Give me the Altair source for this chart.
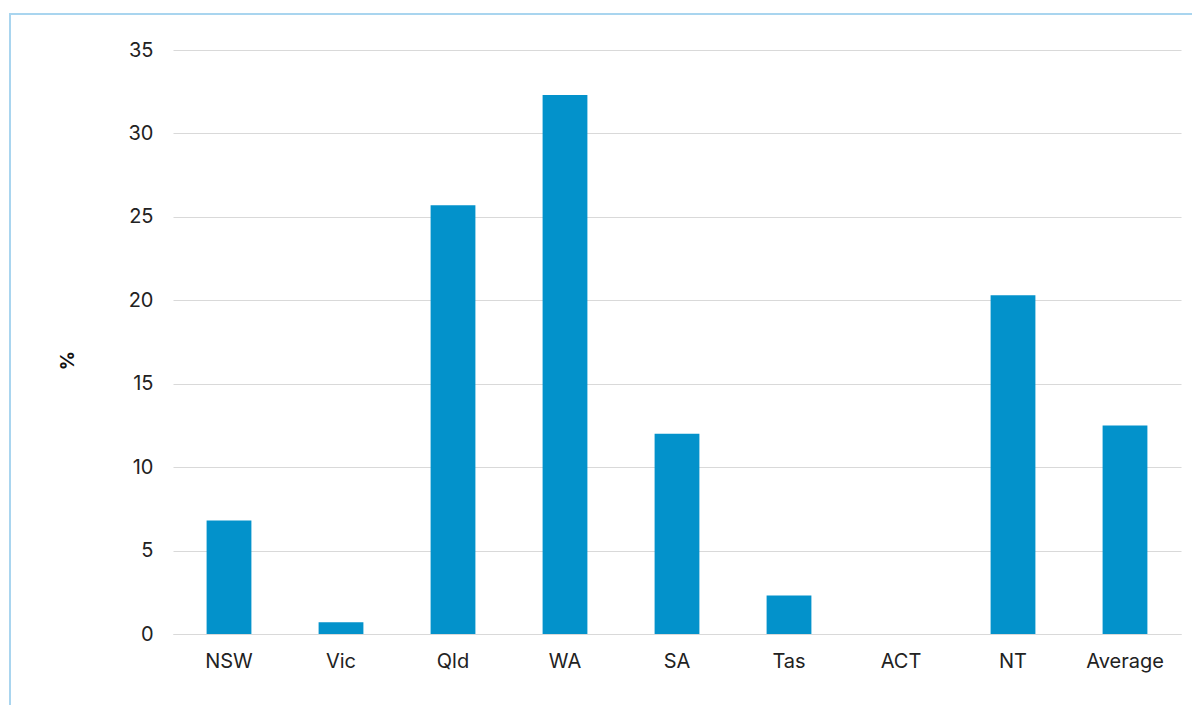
import altair as alt
import pandas as pd

states = ["NSW", "Vic", "Qld", "WA", "SA", "Tas", "ACT", "NT", "Average"]
values = [6.8, 0.7, 25.7, 32.3, 12.0, 2.3, 0.0, 20.3, 12.5]

df = pd.DataFrame({"state": states, "value": values})

FONT = "Inter"

border = alt.Chart(pd.DataFrame({"a": [0]})).mark_rect(
    fill=None, stroke="#a9d5ef", strokeWidth=2, clip=False
).encode(
    x=alt.value(-163), x2=alt.value(1100),
    y=alt.value(-36), y2=alt.value(800),
)

bars = alt.Chart(df).mark_bar(color="#0392CB").encode(
    x=alt.X("state:N", sort=states,
            scale=alt.Scale(paddingInner=0.6, paddingOuter=0.3),
            axis=alt.Axis(title=None, labelAngle=0, ticks=False, domain=True,
                          domainColor="#d9d9d9", labelPadding=17,
                          labelFontSize=20, labelFont=FONT, labelColor="#222222")),
    y=alt.Y("value:Q", scale=alt.Scale(domain=[0, 35]),
            axis=alt.Axis(title="%", values=[0, 5, 10, 15, 20, 25, 30, 35],
                          ticks=False, domain=False, gridColor="#d9d9d9",
                          labelPadding=20, labelFontSize=20, labelFont=FONT,
                          labelColor="#222222", titleAngle=-90, titleX=-106,
                          titleY=310, titleFont=FONT, titleFontSize=19,
                          titleFontWeight="bold", titleColor="#111111",
                          titleAlign="center", titleBaseline="middle")),
)

chart = alt.layer(border, bars).properties(
    width=1008, height=584,
    autosize=alt.AutoSizeParams(type="none"),
    padding={"left": 165, "top": 42, "right": 11, "bottom": 71},
).configure_view(stroke=None)

chart.save("out.html", embed_options={"renderer": "svg", "actions": False})
